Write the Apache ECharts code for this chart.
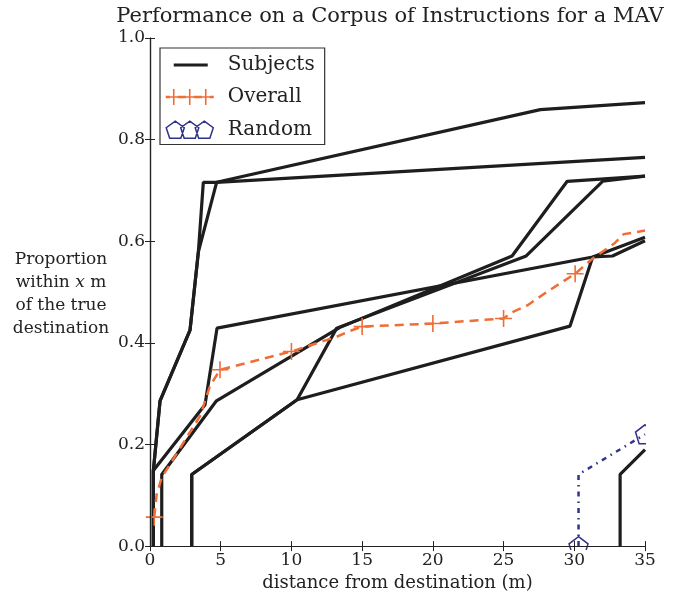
<!DOCTYPE html>
<html><head><meta charset="utf-8">
<script src="https://cdn.jsdelivr.net/npm/echarts@6/dist/echarts.min.js"></script>
<style>html,body{margin:0;padding:0;background:#fff}#c{width:678px;height:597px}</style>
</head><body><div id="c"></div>
<script>
// ---- data ----
const xTickValues = [0, 5, 10, 15, 20, 25, 30, 35];
const yTickLabels = ['0.0', '0.2', '0.4', '0.6', '0.8', '1.0'];

const subject1 = [[0.24,0],[0.24,0.149],[0.71,0.286],[2.83,0.425],[3.42,0.579],[3.77,0.716],[4.71,0.716],[35,0.765]];
const subject2 = [[0.24,0],[0.24,0.149],[0.71,0.286],[2.83,0.425],[3.42,0.579],[4.71,0.716],[27.6,0.859],[35,0.873]];
const subject3 = [[0.24,0],[0.24,0.149],[3.89,0.278],[4.74,0.429],[31.3,0.569],[35,0.608]];
const subject4 = [[0.83,0],[0.83,0.141],[4.7,0.286],[13.4,0.43],[25.6,0.571],[29.5,0.718],[35,0.728]];
const subject5 = [[2.95,0],[2.95,0.141],[10.4,0.288],[13.2,0.429],[26.6,0.571],[32.0,0.718],[35,0.728]];
const subject6 = [[2.95,0],[2.95,0.141],[10.4,0.288],[29.7,0.433],[31.3,0.569],[32.7,0.571],[35,0.601]];
const subject7 = [[33.24,0],[33.24,0.141],[35,0.19]];

const overall = [[0.3,0.057],[0.47,0.102],[0.83,0.135],[3.54,0.256],[4.24,0.315],[4.95,0.347],[10,0.383],
  [13.2,0.412],[14.1,0.423],[15,0.432],[20,0.438],[25,0.448],[25.6,0.46],[26.7,0.474],[28.05,0.5],
  [29.5,0.526],[30.06,0.536],[31.3,0.566],[32.8,0.595],[33.5,0.614],[35,0.621]];
const overallMarkerIdx = [0, 5, 6, 9, 10, 11, 16];

const random = [[30.3,0],[30.3,0.141],[35,0.22]];
const randomMarkerIdx = [0, 2];

// ---- styles ----
const FONT = 'DejaVu Serif';
const BLACK = '#1e1e1e';
const ORANGE = '#ef6d36';
const NAVY = '#30338a';

function pentagon(cx, cy, r) {
  let s = '';
  for (let k = 0; k < 5; k++) {
    const a = -Math.PI / 2 + k * 2 * Math.PI / 5;
    s += (k ? 'L' : 'M') + (cx + r * Math.cos(a)).toFixed(2) + ',' + (cy + r * Math.sin(a)).toFixed(2);
  }
  return s + 'Z';
}
function rect(x0, y0, x1, y1) { return `M${x0},${y0}H${x1}V${y1}H${x0}Z`; }
function plus(cx, cy, hw, hh, t) { return rect(cx - t/2, cy - hh, cx + t/2, cy + hh) + rect(cx - hw, cy - t/2, cx + hw, cy + t/2); }

const plusSymbol = 'path://' + plus(0, 0, 8.5, 8.5, 1.6);
const pentSymbol = 'path://' + pentagon(0, 0, 10);
const BOX = 'M0,0M57,20';
const iconSubjects = 'path://' + BOX + rect(8, 8.5, 42, 11.5);
const iconOverall = 'path://' + BOX + plus(8, 10, 6.5, 8, 1.6) + plus(24, 10, 6.5, 8, 1.6) + plus(40, 10, 6.5, 8, 1.6)
  + rect(12, 8.8, 20, 11.2) + rect(28, 8.8, 36, 11.2) + rect(0, 8.8, 4, 11.2) + rect(44, 8.8, 48, 11.2);
const iconRandom = 'path://' + BOX + pentagon(9.5, 10.9, 9.5) + pentagon(24, 10.9, 9.5) + pentagon(38.5, 10.9, 9.5);

const subjects = [subject1, subject2, subject3, subject4, subject5, subject6, subject7];
const series = subjects.map(d => ({
  name: 'Subjects', type: 'line', data: d, symbol: 'none', clip: true, silent: true,
  lineStyle: { color: BLACK, width: 3.2 }, itemStyle: { color: BLACK }, emphasis: { disabled: true }, z: 2
}));
series.push({
  name: 'Overall', type: 'line', clip: true, silent: true, z: 3,
  data: overall.map((p, i) => overallMarkerIdx.includes(i) ? { value: p } : { value: p, symbol: 'none' }),
  symbol: plusSymbol, symbolSize: 17,
  lineStyle: { color: ORANGE, width: 2.5, type: [9, 6] },
  itemStyle: { color: ORANGE, borderWidth: 0 }, emphasis: { disabled: true }
});
series.push({
  name: 'Random', type: 'line', clip: true, silent: true, z: 3,
  data: random.map((p, i) => randomMarkerIdx.includes(i) ? { value: p } : { value: p, symbol: 'none' }),
  symbol: pentSymbol, symbolSize: 19,
  lineStyle: { color: NAVY, width: 2.5, type: [5, 5, 1.5, 5] },
  itemStyle: { color: 'rgba(255,255,255,0)', borderColor: NAVY, borderWidth: 1.5 }, emphasis: { disabled: true }
});

const axisText = { fontFamily: FONT, fontSize: 17, color: '#222' };
const frameLine = { show: true, lineStyle: { color: '#222', width: 1.2 } };
const tick = { show: true, inside: true, length: 5, lineStyle: { color: '#222', width: 1 } };

const chart = echarts.init(document.getElementById('c'), null, { renderer: 'canvas' });
chart.setOption({
  animation: false,
  backgroundColor: '#fff',
  grid: { left: 150, right: 33, top: 38, bottom: 48, containLabel: false },
  xAxis: [
    { type: 'value', min: xTickValues[0], max: xTickValues[xTickValues.length - 1], interval: xTickValues[1] - xTickValues[0],
      position: 'bottom', z: 5, splitLine: { show: false }, axisLine: frameLine, axisTick: tick,
      axisLabel: Object.assign({ margin: 6 }, axisText),
      name: 'distance from destination (m)', nameLocation: 'middle', nameGap: 19,
      nameTextStyle: { fontFamily: FONT, fontSize: 18, color: '#222' } },
    { type: 'value', min: xTickValues[0], max: xTickValues[xTickValues.length - 1], interval: xTickValues[1] - xTickValues[0],
      position: 'top', z: 5, splitLine: { show: false }, axisLine: frameLine, axisTick: tick, axisLabel: { show: false } }
  ],
  yAxis: [
    { type: 'value', min: 0, max: 1, interval: 0.2, position: 'left', z: 5, splitLine: { show: false },
      axisLine: frameLine, axisTick: tick,
      axisLabel: Object.assign({ margin: 5, formatter: v => yTickLabels[Math.round(v / 0.2)] }, axisText) },
    { type: 'value', min: 0, max: 1, interval: 0.2, position: 'right', z: 5, splitLine: { show: false },
      axisLine: frameLine, axisTick: tick, axisLabel: { show: false } }
  ],
  legend: {
    orient: 'vertical', left: 160, top: 48, padding: [7, 10, 4, 5], itemGap: 12, itemWidth: 57, itemHeight: 20,
    backgroundColor: '#fff', borderColor: '#333', borderWidth: 1.2, borderRadius: 0, selectedMode: false, z: 6,
    textStyle: { fontFamily: FONT, fontSize: 20, color: '#222' },
    data: [
      { name: 'Subjects', icon: iconSubjects, itemStyle: { color: BLACK, borderWidth: 0 } },
      { name: 'Overall', icon: iconOverall, itemStyle: { color: ORANGE, borderWidth: 0 } },
      { name: 'Random', icon: iconRandom, itemStyle: { color: 'rgba(255,255,255,0)', borderColor: NAVY, borderWidth: 1.5 } }
    ]
  },
  graphic: [
    { type: 'rect', z: 4, silent: true, shape: { x: 0, y: 550, width: 678, height: 47 }, style: { fill: '#fff' } },
    { type: 'rect', z: 4, silent: true, shape: { x: 646, y: 0, width: 32, height: 597 }, style: { fill: '#fff' } },
    { type: 'text', z: 7, x: 390, y: 17, silent: true,
      style: { text: 'Performance on a Corpus of Instructions for a MAV', fontFamily: FONT, fontSize: 21, fill: '#222',
               align: 'center', verticalAlign: 'middle' } },
    { type: 'text', z: 7, x: 61, y: 294, silent: true,
      style: { text: '{a|Proportion}\n{a|within }{i|x}{a| m}\n{a|of the true}\n{a|destination}',
               align: 'center', verticalAlign: 'middle', fill: '#222',
               rich: { a: { fontFamily: FONT, fontSize: 17, lineHeight: 23, fill: '#222' },
                       i: { fontFamily: FONT, fontStyle: 'italic', fontSize: 17, lineHeight: 23, fill: '#222' } } } }
  ],
  series: series
});
</script></body></html>
